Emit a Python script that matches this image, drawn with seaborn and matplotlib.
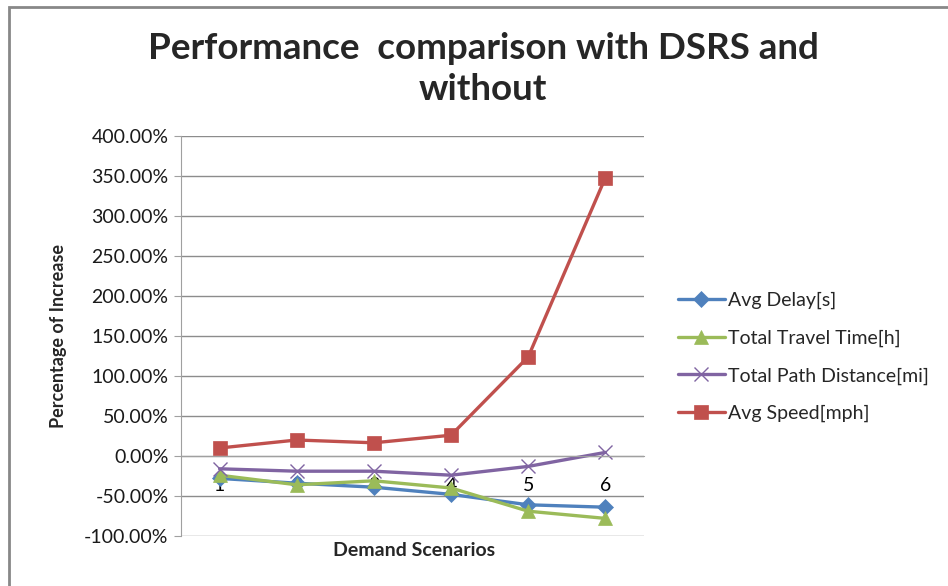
import numpy as np
import pandas as pd
import matplotlib
matplotlib.use('Agg')
import matplotlib.pyplot as plt
import seaborn as sns
from matplotlib.patches import Rectangle
from matplotlib.ticker import FuncFormatter, FixedLocator

scenarios = ['1', '2', '3', '4', '5', '6']
avg_delay = [-28, -34, -39, -48, -61, -64]
total_travel_time = [-24, -36, -31, -40, -69, -78]
total_path_distance = [-16, -19, -19, -24, -13, 4.5]
avg_speed = [10, 20, 16.5, 26, 124, 348]

series_names = ['Avg Delay[s]', 'Total Travel Time[h]', 'Total Path Distance[mi]', 'Avg Speed[mph]']
series_values = [avg_delay, total_travel_time, total_path_distance, avg_speed]
colors = ['#4F81BD', '#9BBB59', '#8064A2', '#C0504D']
markers = ['D', '^', 'x', 's']
marker_sizes = [8, 10, 10, 10]

sns.set_style('white')
plt.rcParams['font.family'] = ['Lato', 'DejaVu Sans']

fig = plt.figure(figsize=(9.48, 5.86), dpi=100)
ax = fig.add_axes([181 / 948, 1 - 536 / 586, (644 - 181) / 948, (536 - 136) / 586])

pos = np.arange(len(scenarios))
for name, vals, c, m, ms in zip(series_names, series_values, colors, markers, marker_sizes):
    df = pd.DataFrame({'x': pos, 'y': vals})
    sns.lineplot(data=df, x='x', y='y', ax=ax, color=c, linewidth=2.4, label=name,
                 marker=m, markersize=ms, markeredgecolor=c,
                 markeredgewidth=1.0 if m == 'x' else 0.5)

ax.set_xlim(-0.5, len(scenarios) - 0.5)
ax.set_ylim(-100, 400)
ax.set_yticks(np.arange(-100, 401, 50))
ax.yaxis.set_major_formatter(FuncFormatter(lambda v, p: f'{v:.2f}%'))
ax.grid(axis='y', color='#8c8c8c', linewidth=1.0)
ax.set_axisbelow(True)

for s in ['top', 'right']:
    ax.spines[s].set_visible(False)
ax.spines['left'].set_color('#a0a0a0')
ax.spines['bottom'].set_color('#a0a0a0')
ax.spines['bottom'].set_position(('data', 0))

ax.set_xticks(pos)
ax.set_xticklabels(scenarios, fontsize=14, color='#000000')
ax.xaxis.set_minor_locator(FixedLocator(np.arange(len(scenarios)) + 0.5))
ax.tick_params(axis='x', which='major', length=0, pad=15)
ax.tick_params(axis='x', which='minor', length=5, color='#a0a0a0', direction='out')
ax.tick_params(axis='y', length=5, color='#a0a0a0', direction='out', labelsize=14,
               labelcolor='#1a1a1a', pad=4, left=True)

ax.set_ylabel('Percentage of Increase', fontsize=13, fontweight='bold', labelpad=12)
ax.set_xlabel('')
fig.text(414 / 948, 1 - 551 / 586, 'Demand Scenarios', fontsize=14, fontweight='bold',
         ha='center', va='center')

fig.text(483 / 948, 1 - 69 / 586, 'Performance  comparison with DSRS and\nwithout',
         fontsize=26.5, fontweight='bold', ha='center', va='center', linespacing=1.33)

leg = ax.legend(loc='center left', bbox_to_anchor=(678 / 948, 1 - 357 / 586),
                bbox_transform=fig.transFigure, frameon=False, fontsize=14,
                handlelength=2.4, labelspacing=1.05, borderpad=0, borderaxespad=0,
                handletextpad=0.15)

fig.patches.append(Rectangle((9 / 948, -0.05), 1.0, 1.05 - 7 / 586, transform=fig.transFigure,
                             fill=False, edgecolor='#888888', linewidth=2))

fig.savefig('out.png', dpi=100)
